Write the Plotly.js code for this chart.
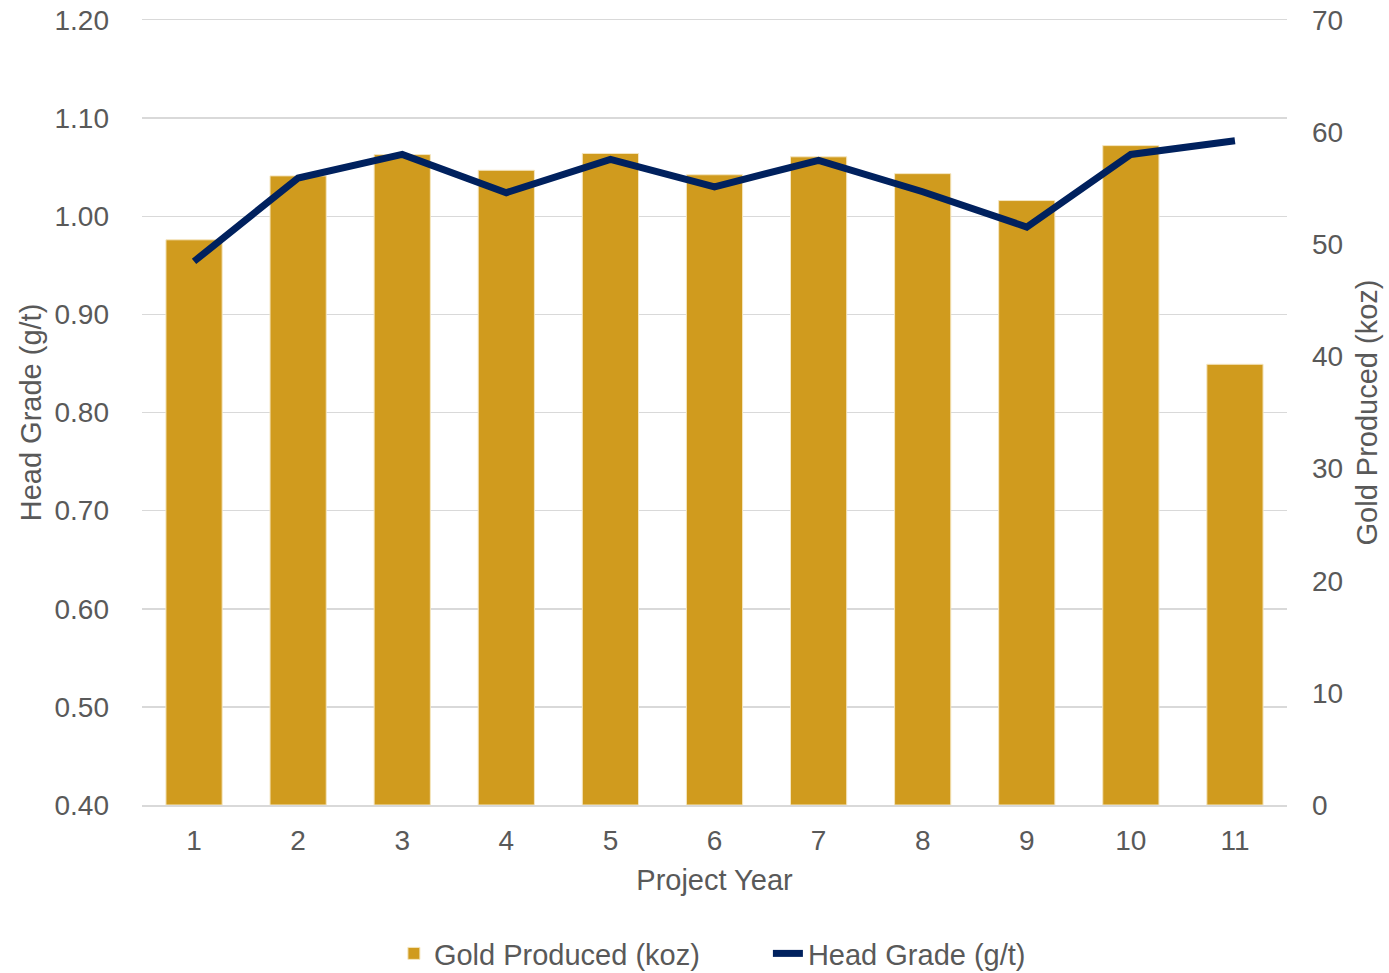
<!DOCTYPE html>
<html>
<head>
<meta charset="utf-8">
<script src="https://cdn.plot.ly/plotly-3.0.1.min.js"></script>
<style>html,body{margin:0;padding:0;background:#fff;}#chart{width:1389px;height:973px;}</style>
</head>
<body>
<div id="chart"></div>
<script>
const years = ['1','2','3','4','5','6','7','8','9','10','11'];
const goldProduced = [50.4, 56.1, 58.0, 56.6, 58.1, 56.2, 57.8, 56.3, 53.9, 58.8, 39.3];
const headGrade = [0.954, 1.039, 1.063, 1.024, 1.058, 1.030, 1.057, 1.025, 0.989, 1.063, 1.077];
const leftTicks = [0.40, 0.50, 0.60, 0.70, 0.80, 0.90, 1.00, 1.10, 1.20];
const rightTicks = [0, 10, 20, 30, 40, 50, 60, 70];
const leftRange = [0.40, 1.20];
const rightRange = [0, 70];

// gridlines follow the left (Head Grade) ticks, expressed on the right axis scale
const gridStep = (leftTicks[1] - leftTicks[0]) / (leftRange[1] - leftRange[0]) * (rightRange[1] - rightRange[0]);

const fam = '"Liberation Sans", Arial, sans-serif';
const tickFont = {family: fam, size: 28, color: '#595959'};
const titleFont = {family: fam, size: 29, color: '#595959'};
const gridColor = '#d9d9d9';

const traces = [
  {
    type: 'bar', name: 'Gold Produced (koz)', x: years, y: goldProduced, yaxis: 'y',
    marker: {color: '#D09B1E', line: {color: '#F5E6C0', width: 1}}
  },
  {
    type: 'scatter', mode: 'lines', name: 'Head Grade (g/t)', x: years, y: headGrade, yaxis: 'y2',
    line: {color: '#00215E', width: 7}
  }
];

const layout = {
  width: 1389, height: 973,
  margin: {l: 142, r: 102, t: 20, b: 168},
  paper_bgcolor: '#fff', plot_bgcolor: '#fff',
  font: tickFont,
  showlegend: true,
  bargap: 0.46,
  legend: {orientation: 'h', x: 0.22, xanchor: 'left', yref: 'container', y: 0.02, yanchor: 'middle',
           entrywidth: 329, entrywidthmode: 'pixels',
           font: {family: fam, size: 29, color: '#595959'}, traceorder: 'normal'},
  xaxis: {
    type: 'category', showgrid: false, zeroline: false, automargin: false,
    showline: true, mirror: true, linecolor: gridColor, linewidth: 1.5,
    ticks: '', ticklabelstandoff: 10, tickfont: tickFont,
    title: {text: 'Project Year', font: titleFont, standoff: 14}
  },
  yaxis: {
    range: rightRange, tickvals: rightTicks, side: 'right', automargin: false,
    showgrid: false, zeroline: false,
    minor: {tick0: 0, dtick: gridStep, showgrid: true, gridcolor: gridColor, gridwidth: 1.5, ticks: ''},
    ticks: '', ticklabelstandoff: 24, tickfont: tickFont,
    title: {text: 'Gold Produced (koz)', font: titleFont, standoff: 14}
  },
  yaxis2: {
    range: leftRange, tickvals: leftTicks, tickformat: '.2f', overlaying: 'y', side: 'left',
    automargin: false, showgrid: false, zeroline: false,
    ticks: '', ticklabelstandoff: 32, tickfont: tickFont,
    title: {text: 'Head Grade (g/t)', font: titleFont, standoff: 4}
  }
};

Plotly.newPlot('chart', traces, layout, {displayModeBar: false, staticPlot: true});
</script>
</body>
</html>
